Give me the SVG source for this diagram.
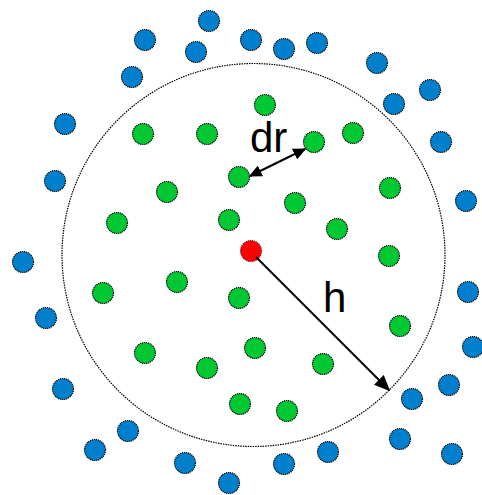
<svg xmlns="http://www.w3.org/2000/svg" width="482" height="495" viewBox="0 0 482 495">
<style>
.b{fill:#0080CC;stroke:#000;stroke-width:1.2;stroke-dasharray:1.2 0.8}
.g{fill:#00C832;stroke:#000;stroke-width:1.2;stroke-dasharray:1.2 0.8}
.r{fill:#FF0000;stroke:#8a1a1a;stroke-width:1.2;stroke-dasharray:1.2 0.8}
.rng{fill:none;stroke:#000;stroke-width:1.2;stroke-dasharray:1.5 1}
.ar{stroke:#000;stroke-width:2;fill:none}
.lbl{font-family:"Liberation Sans",Arial,sans-serif;font-size:42px;fill:#000}
</style>
<defs>
<marker id="ah" viewBox="0 0 10 10" refX="9" refY="5" markerWidth="13" markerHeight="12" markerUnits="userSpaceOnUse" orient="auto-start-reverse" preserveAspectRatio="none">
<path d="M0,0 L10,5 L0,10 z" fill="#000"/>
</marker>
<marker id="ah2" viewBox="0 0 10 10" refX="9" refY="5" markerWidth="16" markerHeight="14" markerUnits="userSpaceOnUse" orient="auto-start-reverse" preserveAspectRatio="none">
<path d="M0,0 L10,5 L0,10 z" fill="#000"/>
</marker>
</defs>
<rect width="482" height="495" fill="#fff"/>
<g id="range"><circle class="rng" cx="253.5" cy="255" r="191.5"/></g>
<g id="outside">
<g id="b1"><circle class="b" cx="209" cy="21" r="10.5"/></g>
<g id="b2"><circle class="b" cx="145" cy="40" r="10.5"/></g>
<g id="b3"><circle class="b" cx="196" cy="52" r="10.5"/></g>
<g id="b4"><circle class="b" cx="132" cy="77" r="10.5"/></g>
<g id="b5"><circle class="b" cx="65" cy="124" r="10.5"/></g>
<g id="b6"><circle class="b" cx="55" cy="181" r="10.5"/></g>
<g id="b7"><circle class="b" cx="251" cy="40" r="10.5"/></g>
<g id="b8"><circle class="b" cx="284" cy="49" r="10.5"/></g>
<g id="b9"><circle class="b" cx="317" cy="43" r="10.5"/></g>
<g id="b10"><circle class="b" cx="377" cy="63" r="10.5"/></g>
<g id="b11"><circle class="b" cx="430" cy="90" r="10.5"/></g>
<g id="b12"><circle class="b" cx="394" cy="104" r="10.5"/></g>
<g id="b13"><circle class="b" cx="441" cy="142" r="10.5"/></g>
<g id="b14"><circle class="b" cx="466" cy="201" r="10.5"/></g>
<g id="b15"><circle class="b" cx="23" cy="262" r="10.5"/></g>
<g id="b16"><circle class="b" cx="46" cy="318" r="10.5"/></g>
<g id="b17"><circle class="b" cx="63" cy="389" r="10.5"/></g>
<g id="b18"><circle class="b" cx="128" cy="431" r="10.5"/></g>
<g id="b19"><circle class="b" cx="95" cy="450" r="10.5"/></g>
<g id="b20"><circle class="b" cx="185" cy="463" r="10.5"/></g>
<g id="b21"><circle class="b" cx="229" cy="483" r="10.5"/></g>
<g id="b22"><circle class="b" cx="468" cy="292" r="10.5"/></g>
<g id="b23"><circle class="b" cx="473" cy="347" r="10.5"/></g>
<g id="b24"><circle class="b" cx="449" cy="385" r="10.5"/></g>
<g id="b25"><circle class="b" cx="412" cy="399" r="10.5"/></g>
<g id="b26"><circle class="b" cx="400" cy="439" r="10.5"/></g>
<g id="b27"><circle class="b" cx="452" cy="454" r="10.5"/></g>
<g id="b28"><circle class="b" cx="328" cy="452" r="10.5"/></g>
<g id="b29"><circle class="b" cx="284" cy="464" r="10.5"/></g>
</g>
<g id="inside">
<g id="g1"><circle class="g" cx="265" cy="105" r="10.5"/></g>
<g id="g2"><circle class="g" cx="143" cy="134" r="10.5"/></g>
<g id="g3"><circle class="g" cx="207" cy="134" r="10.5"/></g>
<g id="g4"><circle class="g" cx="314" cy="142" r="10.5"/></g>
<g id="g5"><circle class="g" cx="353" cy="133" r="10.5"/></g>
<g id="g6"><circle class="g" cx="239" cy="177" r="10.5"/></g>
<g id="g7"><circle class="g" cx="167" cy="192" r="10.5"/></g>
<g id="g8"><circle class="g" cx="390" cy="188" r="10.5"/></g>
<g id="g9"><circle class="g" cx="295" cy="203" r="10.5"/></g>
<g id="g10"><circle class="g" cx="229" cy="220" r="10.5"/></g>
<g id="g11"><circle class="g" cx="117" cy="223" r="10.5"/></g>
<g id="g12"><circle class="g" cx="337" cy="229" r="10.5"/></g>
<g id="g13"><circle class="g" cx="389" cy="256" r="10.5"/></g>
<g id="g14"><circle class="g" cx="177" cy="282" r="10.5"/></g>
<g id="g15"><circle class="g" cx="103" cy="293" r="10.5"/></g>
<g id="g16"><circle class="g" cx="239" cy="298" r="10.5"/></g>
<g id="g17"><circle class="g" cx="400" cy="326" r="10.5"/></g>
<g id="g18"><circle class="g" cx="145" cy="353" r="10.5"/></g>
<g id="g19"><circle class="g" cx="255" cy="348" r="10.5"/></g>
<g id="g20"><circle class="g" cx="207" cy="368" r="10.5"/></g>
<g id="g21"><circle class="g" cx="323" cy="364" r="10.5"/></g>
<g id="g22"><circle class="g" cx="240" cy="404" r="10.5"/></g>
<g id="g23"><circle class="g" cx="287" cy="411" r="10.5"/></g>
</g>
<g id="center"><circle class="r" cx="251" cy="251" r="10.5"/></g>
<g id="connectors">
<line class="ar" x1="250" y1="176" x2="305" y2="149" marker-start="url(#ah)" marker-end="url(#ah)" id="dr-arrow"/>
<line class="ar" x1="256" y1="257" x2="389" y2="390" marker-end="url(#ah2)" id="h-arrow"/>
</g>
<text class="lbl" x="250" y="152">dr</text>
<text class="lbl" x="323" y="312">h</text>
</svg>
